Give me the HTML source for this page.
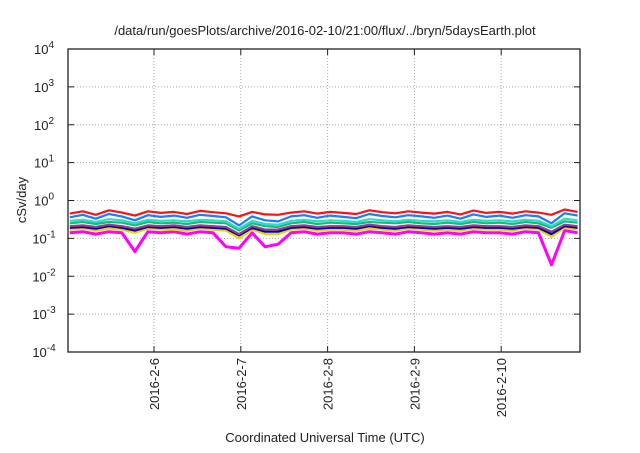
<!DOCTYPE html>
<html><head><meta charset="utf-8"><style>
body{margin:0;background:#fff}
svg text{font-family:"Liberation Sans",sans-serif;fill:#222}
</style></head><body>
<svg id="chart" width="640" height="448" xmlns="http://www.w3.org/2000/svg">
<text x="325" y="35" font-size="13" text-anchor="middle">/data/run/goesPlots/archive/2016-02-10/21:00/flux/../bryn/5daysEarth.plot</text>
<g id="grid"></g>
<g id="series"></g>
<g id="axes"></g>
<text transform="translate(26,200) rotate(-90)" font-size="13" text-anchor="middle">cSv/day</text>
<text x="325" y="442" font-size="13" text-anchor="middle">Coordinated Universal Time (UTC)</text>
</svg>
<script>
const xTickDays=[6,7,8,9,10];
const xTickLabels=["2016-2-6","2016-2-7","2016-2-8","2016-2-9","2016-2-10"];
const yTickExps=[-4,-3,-2,-1,0,1,2,3,4];
const tStart=5.03, tEnd=10.88;
const red=[0.45,0.52,0.42,0.55,0.48,0.40,0.52,0.47,0.50,0.44,0.53,0.49,0.46,0.38,0.50,0.43,0.42,0.48,0.52,0.45,0.50,0.47,0.44,0.55,0.49,0.46,0.52,0.48,0.45,0.50,0.43,0.54,0.47,0.50,0.45,0.52,0.48,0.42,0.58,0.50];
const blue=[0.36,0.42,0.33,0.44,0.38,0.30,0.41,0.37,0.40,0.35,0.42,0.39,0.36,0.22,0.38,0.30,0.28,0.38,0.41,0.35,0.40,0.37,0.34,0.44,0.39,0.36,0.41,0.38,0.35,0.40,0.33,0.43,0.37,0.40,0.35,0.41,0.38,0.25,0.46,0.40];
const cyan=[0.29,0.31,0.27,0.32,0.30,0.25,0.31,0.29,0.30,0.28,0.31,0.30,0.28,0.18,0.29,0.24,0.23,0.29,0.31,0.28,0.30,0.29,0.27,0.32,0.30,0.28,0.31,0.29,0.28,0.30,0.27,0.31,0.29,0.30,0.28,0.31,0.29,0.21,0.33,0.30];
const green=[0.25,0.27,0.24,0.27,0.26,0.22,0.27,0.25,0.26,0.24,0.27,0.26,0.25,0.16,0.25,0.21,0.20,0.25,0.27,0.24,0.26,0.25,0.24,0.27,0.26,0.25,0.27,0.25,0.24,0.26,0.24,0.27,0.25,0.26,0.24,0.27,0.25,0.19,0.28,0.26];
const purple=[0.21,0.22,0.20,0.23,0.21,0.18,0.22,0.21,0.22,0.20,0.22,0.21,0.20,0.13,0.21,0.17,0.17,0.21,0.22,0.20,0.21,0.21,0.20,0.23,0.21,0.20,0.22,0.21,0.20,0.21,0.20,0.22,0.21,0.21,0.20,0.22,0.21,0.15,0.23,0.21];
const navy=[0.19,0.20,0.18,0.21,0.19,0.16,0.20,0.19,0.20,0.18,0.20,0.19,0.18,0.12,0.19,0.15,0.15,0.19,0.20,0.18,0.19,0.19,0.18,0.21,0.19,0.18,0.20,0.19,0.18,0.19,0.18,0.20,0.19,0.19,0.18,0.20,0.19,0.13,0.21,0.19];
const yellow=[0.17,0.18,0.16,0.18,0.17,0.14,0.18,0.17,0.17,0.16,0.18,0.17,0.16,0.10,0.17,0.13,0.13,0.17,0.18,0.16,0.17,0.17,0.16,0.18,0.17,0.16,0.18,0.17,0.16,0.17,0.16,0.18,0.17,0.17,0.16,0.18,0.17,0.11,0.19,0.17];
const magenta=[0.14,0.15,0.13,0.15,0.14,0.045,0.15,0.14,0.15,0.13,0.15,0.14,0.06,0.055,0.14,0.06,0.07,0.14,0.15,0.13,0.14,0.14,0.13,0.15,0.14,0.13,0.15,0.14,0.13,0.14,0.13,0.15,0.14,0.14,0.13,0.15,0.14,0.02,0.16,0.14];
const seriesList=[[magenta,"#ff00ff","magenta"],[yellow,"#e8d800","yellow"],[navy,"#0000b0","navy"],[purple,"#9a3a8a","purple"],[green,"#10c070","green"],[cyan,"#30d8d0","cyan"],[red,"#ff1010","red"],[blue,"#1a7cff","blue"]];
const L=68,R=580,T=49,B=352;
const NS="http://www.w3.org/2000/svg";
function xs(t){return 154+(t-6)*86.8;}
function ys(v){return B-(Math.log10(v)+4)/8*(B-T);}
function mk(tag,attrs,parent){const e=document.createElementNS(NS,tag);for(const k in attrs)e.setAttribute(k,attrs[k]);parent.appendChild(e);return e;}
const grid=document.getElementById('grid'),axes=document.getElementById('axes'),ser=document.getElementById('series');
yTickExps.forEach(p=>{const y=ys(Math.pow(10,p));
 if(p>-4&&p<4){const g=mk('line',{x1:L,x2:R,y1:y,y2:y,stroke:'#aaa','stroke-dasharray':'1,2','stroke-width':1},grid);
 
 }
 mk('line',{x1:L,x2:L+6,y1:y,y2:y,stroke:'#222'},axes);
 mk('line',{x1:R,x2:R-6,y1:y,y2:y,stroke:'#222'},axes);
 const tx=mk('text',{x:L-24,y:y+5,'font-size':13,'text-anchor':'middle'},axes);
 
 
 tx.textContent='10';
 const sp=mk('tspan',{'font-size':10,dy:-6},tx);sp.textContent=String(p);
});
xTickDays.forEach((d,i)=>{const x=xs(d);
 const g=mk('line',{x1:x,x2:x,y1:T,y2:B,stroke:'#aaa','stroke-dasharray':'1,2'},grid);
 
 
 mk('line',{x1:x,x2:x,y1:B,y2:B-6,stroke:'#222'},axes);
 mk('line',{x1:x,x2:x,y1:T,y2:T+6,stroke:'#222'},axes);
 const tx=mk('text',{transform:`translate(${x+5},358) rotate(-90)`,'font-size':13,'text-anchor':'end'},axes);
 
 
 tx.textContent=xTickLabels[i];
});
seriesList.forEach(([vals,col,nm])=>{
 const n=vals.length;
 const pts=vals.map((v,i)=>xs(tStart+(tEnd-tStart)*i/(n-1)).toFixed(1)+','+ys(v).toFixed(1)).join(' ');
 const pl=mk('polyline',{points:pts,fill:'none',stroke:col,'stroke-width':nm==='magenta'?3:2.2,'stroke-linejoin':'round'},ser);
 
 
});
const fr=mk('rect',{x:L,y:T,width:R-L,height:B-T,fill:'none',stroke:'#222','stroke-width':1.3},axes);


</script>
</body></html>
